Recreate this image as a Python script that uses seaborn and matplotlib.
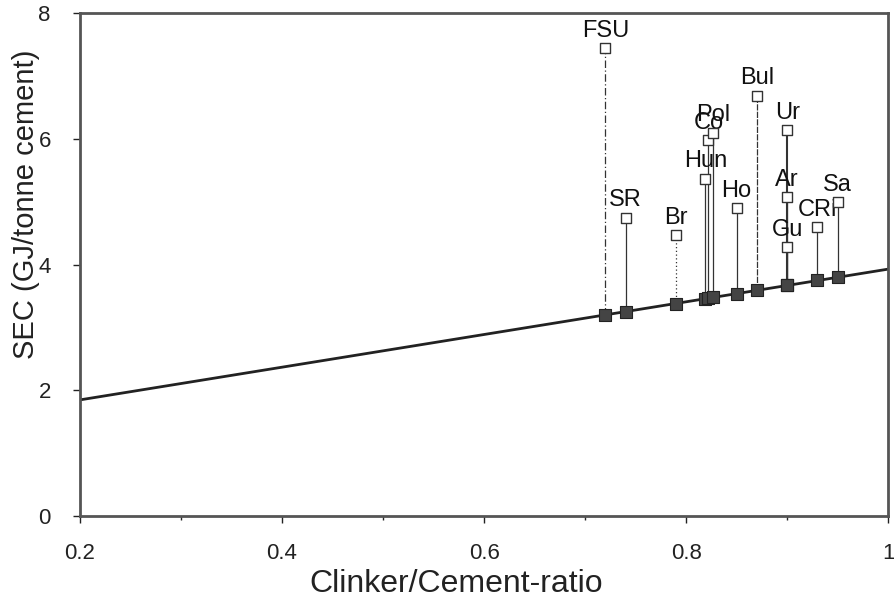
import matplotlib
matplotlib.use("Agg")
import matplotlib.pyplot as plt
import seaborn as sns
import pandas as pd

# Country data
countries = ["FSU", "SR", "Br", "Hun", "Co", "Pol", "Ho", "Bul", "Ur", "Ar", "Gu", "CRi", "Sa"]
clinker_ratio = [0.72, 0.74, 0.79, 0.819, 0.822, 0.827, 0.85, 0.87, 0.90, 0.90, 0.90, 0.93, 0.95]
sec_actual = [7.44, 4.75, 4.47, 5.37, 5.98, 6.10, 4.90, 6.69, 6.14, 5.07, 4.28, 4.60, 5.00]
sec_best = [3.20, 3.25, 3.38, 3.46, 3.47, 3.48, 3.54, 3.59, 3.67, 3.67, 3.67, 3.75, 3.80]

# best-practice line endpoints
line_ratio = [0.2, 1.0]
line_sec = [1.85, 3.93]

df = pd.DataFrame({"country": countries, "ratio": clinker_ratio,
                   "actual": sec_actual, "best": sec_best})
line_df = pd.DataFrame({"ratio": line_ratio, "sec": line_sec})

sns.set_style("ticks")
plt.rcParams["font.family"] = ["Liberation Sans", "DejaVu Sans"]

fig = plt.figure(figsize=(8.94, 6.03), dpi=100)
ax = fig.add_axes([0.0895, 0.144, 0.904, 0.834])

sns.lineplot(data=line_df, x="ratio", y="sec", color="#222222", lw=2, ax=ax, zorder=2)

line_styles = {"FSU": (0, (6, 2, 1, 2)), "Br": (0, (1, 2)), "Bul": (0, (5, 1))}
for _, r in df.iterrows():
    ax.plot([r.ratio, r.ratio], [r.best, r.actual], color="#333333",
            lw=1.5 if r.country == "Ur" else 0.9,
            ls=line_styles.get(r.country, "-"), zorder=1)
    ax.text(r.ratio, r.actual + 0.1, r.country, ha="center", va="bottom",
            fontsize=17, color="#111111")

sns.scatterplot(data=df, x="ratio", y="actual", marker="s", s=55, color="white",
                edgecolor="#333333", linewidth=1.0, ax=ax, zorder=3)
sns.scatterplot(data=df, x="ratio", y="best", marker="s", s=75, color="#444444",
                edgecolor="#222222", linewidth=0.8, ax=ax, zorder=4)

ax.set_xlim(0.2, 1.0)
ax.set_ylim(0, 8)
ax.set_xticks([0.2, 0.4, 0.6, 0.8, 1.0])
ax.set_xticklabels(["0.2", "0.4", "0.6", "0.8", "1"])
ax.set_xticks([0.3, 0.5, 0.7, 0.9], minor=True)
ax.set_yticks([0, 2, 4, 6, 8])
ax.tick_params(axis="both", labelsize=16, direction="out", length=5, width=1, colors="#222222")
ax.tick_params(axis="x", which="minor", length=3, width=1)
ax.tick_params(axis="x", pad=14)
ax.tick_params(axis="y", pad=16)
for s in ax.spines.values():
    s.set_visible(True)
    s.set_linewidth(2)
    s.set_color("#555555")

ax.set_xlabel("Clinker/Cement-ratio", fontsize=23, color="#222222")
ax.set_ylabel("SEC (GJ/tonne cement)", fontsize=21, color="#222222")
ax.xaxis.set_label_coords(0.465, -0.105)
ax.yaxis.set_label_coords(-0.05, 0.62)

fig.savefig("out.png", dpi=100)
